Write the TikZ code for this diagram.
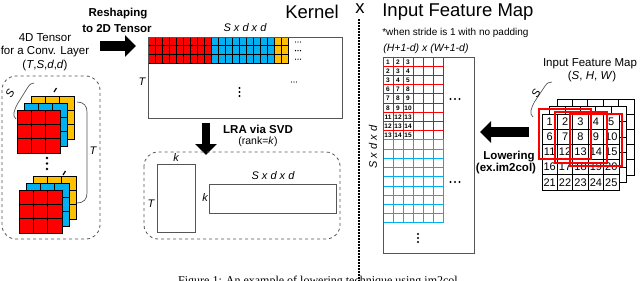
\documentclass[tikz,border=0pt]{standalone}
\usepackage{fontspec}
\setmainfont{Liberation Sans}
\newfontfamily\capfont{Liberation Serif}
\usetikzlibrary{arrows.meta}
\definecolor{kred}{HTML}{FF0000}
\definecolor{kblue}{HTML}{00B0F0}
\definecolor{kyellow}{HTML}{FFC000}
\definecolor{kgray}{HTML}{555555}
\newcommand{\setfs}[1]{\fontsize{#1}{#1}\selectfont}

\begin{document}
\begin{tikzpicture}[x=1pt, y=-1pt, line width=0.7pt, inner sep=0pt,
  txt/.style={font=\setfs{11.5}},
  title/.style={font=\setfs{18.5}},
  bold/.style={font=\setfs{11.5}\bfseries},
  dim/.style={font=\setfs{11}\itshape},
  blockarrow/.style={line width=10pt, -{Triangle[width=21pt,length=11pt]}},
  boxline/.style={draw=kgray, line width=0.8pt},
  dashbox/.style={draw=kgray, dashed, line width=0.8pt, rounded corners=14pt}]
  % x, y in image pixels (y grows downwards)
  \useasboundingbox (0,0) rectangle (640,281);

  % ---- 4D tensor (left)
  \node[txt] (tdesc1) at (45,38) {4D Tensor};
  \node[txt] (tdesc2) at (45,52) {for a Conv. Layer};
  \node[txt] (tdesc3) at (45,66) {(\textit{T},\textit{S},\textit{d},\textit{d})};
  \draw[dashbox] (2,76) rectangle (100,239);

  \foreach \ox/\oy in {17/110, 19/190}
    \foreach \dd/\col in {14/kyellow, 7/kblue, 0/kred}
      \foreach \i in {0,1,2}
        \foreach \j in {0,1,2}
          \filldraw[fill=\col, draw=black, line width=0.6pt]
            (\ox+\dd+\i*14.3, \oy-\dd+\j*14.3) rectangle ++(14.3,14.3);
  \draw[line width=1.2pt] (54,92) -- (56.5,88);
  \draw[line width=1.2pt] (63,175) -- (65.5,171);
  \foreach \y in {158,163.5,169} \fill (47,\y) circle (1.3);

  % S and T brackets
  \draw[kgray] (16,119) .. controls (12,116) and (14,110) .. (18,103) -- (28,87)
     .. controls (30,84) and (32,83) .. (34,83);
  \node[dim, rotate=60] (slab) at (10,93) {S};
  \draw[kgray] (77,102) .. controls (84,102) and (87,106) .. (87,112) -- (87,193)
     .. controls (87,199) and (84,203) .. (77,203);
  \node[dim] (tlab) at (93,151) {T};

  % ---- reshaping arrow
  \node[bold] (resh1) at (118,14) {Reshaping};
  \node[bold] (resh2) at (117,29) {to 2D Tensor};
  \coordinate (reshfrom) at (100,46);
  \coordinate (reshto) at (136,46);
  \draw[blockarrow] (reshfrom) -- (reshto);

  % ---- kernel matrix
  \node[title] (kernel) at (312,12) {Kernel};
  \node[title] (times) at (360,9) {x};
  \node[dim] (kcols) at (245,28) {S x d x d};
  \node[dim] (krows) at (142,82) {T};
  \foreach \j in {0,1,2} {
    \foreach \i in {0,...,8}
      \filldraw[fill=kred, draw=black, line width=0.5pt] (148+\i*7, 37+\j*8.7) rectangle ++(7,8.7);
    \foreach \i in {9,...,17}
      \filldraw[fill=kblue, draw=black, line width=0.5pt] (148+\i*7, 37+\j*8.7) rectangle ++(7,8.7);
    \foreach \i in {18,19}
      \filldraw[fill=kyellow, draw=black, line width=0.5pt] (148+\i*7, 37+\j*8.7) rectangle ++(7,8.7);
    \foreach \x in {295.5,298,300.5} \fill (\x,42+\j*8.6) circle (0.7);
  }
  \draw[boxline] (148,37) rectangle (342,118);
  \foreach \x in {291.5,294,296.5} \fill (\x,82) circle (0.7);
  \foreach \y in {88,92,96} \fill (239.5,\y) circle (1.2);

  % ---- LRA via SVD
  \node[bold] (lra1) at (258,129) {LRA via SVD};
  \node[txt, font=\setfs{10.5}] (lra2) at (258,142) {(rank=\textit{k})};
  \coordinate (lrafrom) at (206,123);
  \coordinate (lrato) at (206,155);
  \draw[blockarrow, line width=8pt] (lrafrom) -- (lrato);
  \draw[dashbox] (144,152) rectangle (340,239);
  \draw[boxline] (157,164) rectangle (195,232);
  \draw[boxline] (209,184) rectangle (336,213);
  \node[dim] (uk) at (176,158) {k};
  \node[dim] (ut) at (151,204) {T};
  \node[dim] (vk) at (205,198) {k};
  \node[dim] (vcols) at (273,176) {S x d x d};

  % separator
  \draw[line width=1.6pt, dash pattern=on 1.6pt off 1.4pt] (359,19) -- (359,281);

  % ---- input feature map (lowered)
  \node[title, anchor=west] (ifm) at (382,12) {Input Feature Map};
  \node[txt, font=\setfs{10}, anchor=west] (stride) at (382,33) {*when stride is 1 with no padding};
  \node[dim, font=\setfs{10.5}\itshape, anchor=west] (lcols) at (383,49) {(H+1-d) x (W+1-d)};
  \node[dim, rotate=90] (lrows) at (373,147) {S x d x d};
  \foreach \c in {0,...,5} {
    \foreach \r in {0,...,8}
      \draw[kred, line width=1pt] (383+\c*10, 57+\r*9.22) rectangle ++(10,9.22);
    \foreach \r in {9,...,17}
      \draw[kblue, line width=1pt] (383+\c*10, 57+\r*9.22) rectangle ++(10,9.22);
  }
  \foreach \r/\b in {0/1,1/2,2/3,3/6,4/7,5/8,6/11,7/12,8/13}
    \foreach \c in {0,1,2} {
      \pgfmathtruncatemacro\cellnum{\b+\c}
      \node[font=\setfs{6.5}\bfseries] (m\r\c) at (388+\c*10, 61.8+\r*9.22) {\cellnum};
    }
  \draw[boxline] (383,57) rectangle (474,253);
  \foreach \x in {450.5,455,459.5} {
    \fill (\x,99) circle (1.1);
    \fill (\x,182) circle (1.1);
  }
  \foreach \y in {234,238,242} \fill (418,\y) circle (1.1);

  % ---- lowering arrow
  \coordinate (lowfrom) at (529,132);
  \coordinate (lowto) at (480,132);
  \draw[blockarrow] (lowfrom) -- (lowto);
  \node[bold] (low1) at (509,157) {Lowering};
  \node[bold] (low2) at (506,169) {(ex.im2col)};

  % ---- input feature map (S, H, W)
  \node[txt] (fmap1) at (590,64) {Input Feature Map};
  \node[txt] (fmap2) at (592,77) {(\textit{S}, \textit{H}, \textit{W})};
  \foreach \dd in {15,7.5,0}
    \foreach \r in {0,...,4}
      \foreach \c in {0,...,4}
        \filldraw[fill=white, draw=black, line width=0.7pt]
          (542+\dd+\c*15.4, 114-\dd+\r*15.2) rectangle ++(15.4,15.2);
  \foreach \r in {0,...,4}
    \foreach \c in {0,...,4} {
      \pgfmathtruncatemacro\fmnum{\r*5+\c+1}
      \node[font=\setfs{11}] (f\fmnum) at (549.7+\c*15.4, 121.6+\r*15.2) {\fmnum};
    }
  \draw[kred, line width=1.2pt] (539,109) rectangle (591,159);
  \draw[kred, line width=1.2pt] (555,112) rectangle (607,163);
  \draw[kred, line width=1.2pt] (570,114) rectangle (622,166);
  \draw[kgray] (533,117) .. controls (529,114) and (531,108) .. (535,101) -- (545,86)
     .. controls (547,83) and (549,82) .. (552,82);
  \node[dim, rotate=60] (fslab) at (536,93) {S};

  % caption (cut at the lower edge)
  \node[font=\capfont\setfs{12}, anchor=base] (caption) at (318,284)
    {Figure 1: An example of lowering technique using im2col};
\end{tikzpicture}
\end{document}
